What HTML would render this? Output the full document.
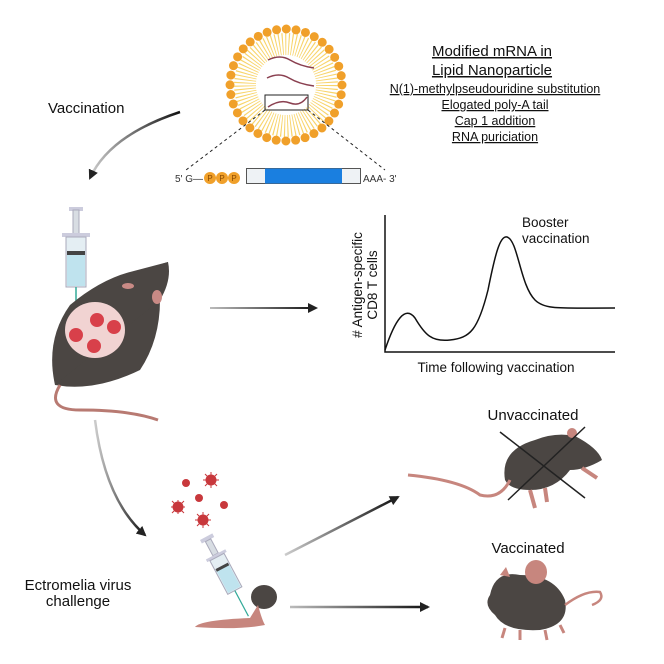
<!DOCTYPE html>
<html><head><meta charset="utf-8"><style>
html,body{margin:0;padding:0;background:#fff}
svg{display:block;font-family:"Liberation Sans",sans-serif}
</style></head><body>
<svg width="664" height="664" viewBox="0 0 664 664" xmlns="http://www.w3.org/2000/svg">
<defs>
<marker id="ah" markerWidth="10" markerHeight="10" refX="8" refY="5" orient="auto" markerUnits="userSpaceOnUse"><path d="M0,0 L10,5 L0,10 z" fill="#222"/></marker>
<linearGradient id="g1" x1="0" y1="0" x2="1" y2="0"><stop offset="0" stop-color="#ccc"/><stop offset="1" stop-color="#111"/></linearGradient>
<linearGradient id="gh1" gradientUnits="userSpaceOnUse" x1="210" y1="0" x2="318" y2="0"><stop offset="0" stop-color="#bbb"/><stop offset="1" stop-color="#111"/></linearGradient>
<linearGradient id="gh2" gradientUnits="userSpaceOnUse" x1="290" y1="0" x2="428" y2="0"><stop offset="0" stop-color="#bbb"/><stop offset="1" stop-color="#111"/></linearGradient>
<linearGradient id="gd1" gradientUnits="userSpaceOnUse" x1="285" y1="555" x2="398" y2="497"><stop offset="0" stop-color="#ccc"/><stop offset="1" stop-color="#111"/></linearGradient>
</defs>
<!-- lipid nanoparticle -->
<g>
<circle cx="286" cy="85" r="41" fill="none" stroke="#f7cf5a" stroke-width="22" stroke-dasharray="1 2.1" opacity="0.9"/>
<circle cx="286" cy="85" r="30" fill="#fff"/>
<circle cx="286" cy="85" r="56" fill="none" stroke="#f0a02a" stroke-width="9" stroke-linecap="round" stroke-dasharray="0 9.775"/>
<circle cx="286" cy="85" r="27" fill="none" stroke="#f0a02a" stroke-width="0"/>
<path d="M268,60 q12,-6 22,0 t24,8" fill="none" stroke="#8a4050" stroke-width="1.5"/>
<path d="M267,78 q12,-6 22,0 t25,8" fill="none" stroke="#8a4050" stroke-width="1.5"/>
<rect x="265" y="95" width="43" height="15" fill="none" stroke="#222" stroke-width="1"/>
<path d="M268,107 q12,-8 22,-4 t17,-6" fill="none" stroke="#8a4050" stroke-width="1.5"/>
<line x1="265" y1="110" x2="186" y2="170" stroke="#222" stroke-dasharray="3 3"/>
<line x1="308" y1="110" x2="385" y2="170" stroke="#222" stroke-dasharray="3 3"/>
</g>
<text x="175" y="182" font-size="10" fill="#333">5' G—</text>
<circle cx="210" cy="178" r="6" fill="#f0a02a"/><circle cx="222" cy="178" r="6" fill="#f0a02a"/><circle cx="234" cy="178" r="6" fill="#f0a02a"/>
<text x="210" y="181" font-size="8" text-anchor="middle" fill="#8a4a00">P</text><text x="222" y="181" font-size="8" text-anchor="middle" fill="#8a4a00">P</text><text x="234" y="181" font-size="8" text-anchor="middle" fill="#8a4a00">P</text>
<rect x="246.5" y="168.5" width="114" height="15" fill="#eef2f5" stroke="#555"/>
<rect x="265" y="168.5" width="77" height="15" fill="#1a7fe0"/>
<text x="363" y="182" font-size="10" fill="#333">AAA- 3'</text>
<!-- title text -->
<g font-size="15" text-anchor="middle" fill="#111" text-decoration="underline">
<text x="492" y="56">Modified mRNA in</text>
<text x="492" y="75">Lipid Nanoparticle</text>
</g>
<g font-size="12.5" text-anchor="middle" fill="#111" text-decoration="underline">
<text x="495" y="93">N(1)-methylpseudouridine substitution</text>
<text x="495" y="109">Elogated poly-A tail</text>
<text x="495" y="125">Cap 1 addition</text>
<text x="495" y="141">RNA puriciation</text>
</g>
<!-- vaccination -->
<text x="48" y="113" font-size="15" fill="#111">Vaccination</text>
<path d="M180,112 Q110,135 90,178" fill="none" stroke="url(#g1)" stroke-width="2.5" marker-end="url(#ah)"/>
<!-- syringe -->
<g>
<rect x="69" y="207" width="14" height="4" fill="#ccd"/>
<rect x="73" y="210" width="6" height="25" fill="#d8dde3" stroke="#aab"/>
<rect x="62" y="233" width="28" height="4" fill="#ccd"/>
<rect x="66" y="237" width="20" height="50" fill="#e4eef3" stroke="#aab"/>
<rect x="67" y="253" width="18" height="33" fill="#bfe3ee"/>
<rect x="67" y="251" width="18" height="4" fill="#444"/>
<line x1="76" y1="287" x2="76" y2="335" stroke="#3a9" stroke-width="1.5"/>
</g>
<!-- mouse 1 -->
<path d="M55,385 Q95,392 140,370 Q160,340 160,300 L168,262 Q140,270 100,290 Q60,310 55,385 Z" fill="#4b4643"/>
<path d="M55,385 Q45,340 70,305 Q100,280 130,272 L168,262 Q172,280 160,300 Z" fill="#4b4643"/>
<ellipse cx="95" cy="330" rx="30" ry="28" fill="#f1d3d2"/>
<circle cx="97" cy="320" r="7" fill="#d8404a"/><circle cx="114" cy="327" r="7" fill="#d8404a"/><circle cx="76" cy="335" r="7" fill="#d8404a"/><circle cx="94" cy="346" r="7" fill="#d8404a"/>
<ellipse cx="157" cy="297" rx="5" ry="7" fill="#c98a85"/><ellipse cx="128" cy="286" rx="6" ry="3" fill="#c98a85"/>
<path d="M60,385 Q45,410 80,410 Q130,410 158,420" fill="none" stroke="#b87a72" stroke-width="3"/>
<!-- horizontal arrow -->
<line x1="210" y1="308" x2="316" y2="308" stroke="url(#gh1)" stroke-width="2" marker-end="url(#ah)"/>
<!-- graph -->
<polyline points="385,215 385,352 615,352" fill="none" stroke="#111" stroke-width="1.5"/>
<path d="M385,350 C395,320 405,305 415,318 C425,335 432,342 450,340 C470,338 478,330 488,290 C495,255 500,235 507,237 C518,240 520,285 535,300 C545,310 560,308 615,308" fill="none" stroke="#111" stroke-width="1.5"/>
<text x="522" y="227" font-size="13.5" fill="#111">Booster</text>
<text x="522" y="243" font-size="13.5" fill="#111">vaccination</text>
<text x="496" y="372" font-size="13.5" text-anchor="middle" fill="#111">Time following vaccination</text>
<text transform="translate(362,285) rotate(-90)" font-size="13.5" text-anchor="middle" fill="#111"># Antigen-specific</text>
<text transform="translate(377,285) rotate(-90)" font-size="13.5" text-anchor="middle" fill="#111">CD8 T cells</text>
<!-- curve arrow down -->
<path d="M95,420 Q105,500 145,535" fill="none" stroke="url(#g1)" stroke-width="2.5" marker-end="url(#ah)"/>
<!-- viruses -->
<g fill="#c8383c">
<circle cx="186" cy="483" r="4"/><circle cx="211" cy="480" r="5.5"/><circle cx="199" cy="498" r="4"/><circle cx="178" cy="507" r="5.5"/><circle cx="224" cy="505" r="4"/><circle cx="203" cy="520" r="5.5"/>
</g>
<g stroke="#c8383c" stroke-width="1">
<path d="M178,500v14M171,507h14M172,501l12,12M184,501l-12,12"/>
<path d="M211,472v16M203,480h16M205,474l12,12M217,474l-12,12"/>
<path d="M203,512v16M195,520h16M197,514l12,12M209,514l-12,12"/>
</g>
<!-- syringe 2 -->
<g transform="translate(200,540) rotate(-28)">
<rect x="0" y="0" width="14" height="4" fill="#ccd"/>
<rect x="4" y="4" width="6" height="16" fill="#d8dde3" stroke="#aab"/>
<rect x="-4" y="20" width="22" height="3" fill="#ccd"/>
<rect x="-1" y="23" width="16" height="38" fill="#e4eef3" stroke="#aab"/>
<rect x="0" y="35" width="14" height="25" fill="#bfe3ee"/>
<rect x="0" y="33" width="14" height="3" fill="#444"/>
<line x1="7" y1="61" x2="7" y2="90" stroke="#3a9" stroke-width="1.2"/>
</g>
<text x="78" y="590" font-size="15" text-anchor="middle" fill="#111">Ectromelia virus</text>
<text x="78" y="606" font-size="15" text-anchor="middle" fill="#111">challenge</text>
<!-- foot -->
<ellipse cx="264" cy="597" rx="13" ry="12" fill="#4b4643"/>
<path d="M258,605 Q262,620 265,625 Q240,630 195,627 Q200,620 250,618 Z" fill="#c7867e"/>
<!-- arrows to outcomes -->
<line x1="285" y1="555" x2="398" y2="497" stroke="url(#gd1)" stroke-width="2.5" marker-end="url(#ah)"/>
<line x1="290" y1="607" x2="428" y2="607" stroke="url(#gh2)" stroke-width="2.5" marker-end="url(#ah)"/>
<!-- unvaccinated -->
<text x="533" y="420" font-size="15" text-anchor="middle" fill="#111">Unvaccinated</text>
<path d="M505,480 Q500,450 535,440 Q555,432 575,436 Q598,448 602,460 Q585,470 570,470 Q555,490 530,490 Q510,490 505,480 Z" fill="#4b4643"/>
<ellipse cx="572" cy="433" rx="5" ry="5" fill="#c7867e"/>
<path d="M408,475 Q460,480 480,495 Q500,500 510,480" fill="none" stroke="#c7867e" stroke-width="3"/>
<path d="M530,490 l5,18 M545,488 l2,14 M582,468 l15,10" stroke="#c7867e" stroke-width="4" fill="none"/>
<line x1="500" y1="432" x2="585" y2="498" stroke="#222" stroke-width="1.5"/>
<line x1="585" y1="427" x2="508" y2="500" stroke="#222" stroke-width="1.5"/>
<!-- vaccinated -->
<text x="528" y="553" font-size="15" text-anchor="middle" fill="#111">Vaccinated</text>
<path d="M490,595 Q495,570 520,575 Q555,575 565,600 Q570,625 540,630 Q505,632 495,615 Q483,605 490,595 Z" fill="#4b4643"/>
<ellipse cx="536" cy="572" rx="11" ry="12" fill="#c7867e"/>
<path d="M500,575 l6,-8 l4,10 z" fill="#c7867e"/>
<path d="M565,605 Q585,590 600,592 Q605,600 592,605" fill="none" stroke="#c7867e" stroke-width="2.5"/>
<path d="M505,628 l-3,10 M520,630 l0,10 M545,630 l2,10 M560,625 l4,8" stroke="#c7867e" stroke-width="3"/>
</svg>
</body></html>
